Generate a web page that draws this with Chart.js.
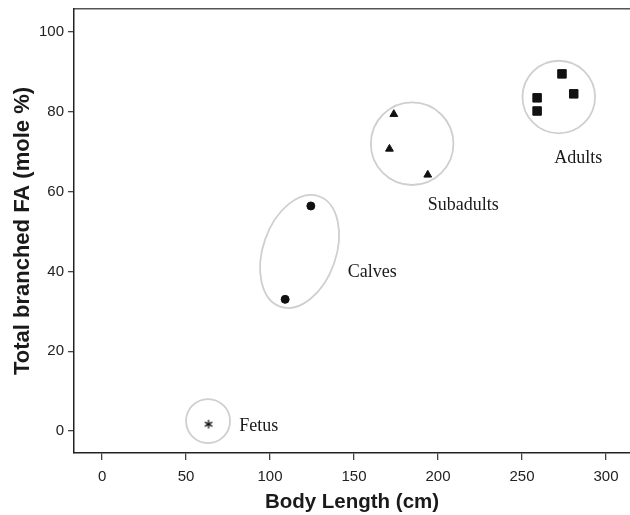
<!DOCTYPE html>
<html>
<head>
<meta charset="utf-8">
<script src="https://cdn.jsdelivr.net/npm/chart.js@4.4.0/dist/chart.umd.min.js"></script>
<style>
  html, body { margin: 0; padding: 0; background: #fff; overflow: hidden; }
  /* 7px wider than the window: the point overflow margin on the right falls off-screen,
     so the plot box runs to the edge */
  #wrap { width: 637px; height: 515px; }
</style>
</head>
<body>
<div id="wrap"><canvas id="myChart"></canvas></div>
<script>
// body length (cm) and total branched FA (mole %) per age group
const groups = ['Fetus', 'Calves', 'Subadults', 'Adults'];
const fetusX = [63.4];
const fetusY = [1.7];
const calvesX = [124.3, 109.0];
const calvesY = [56.4, 33.0];
const subadultX = [173.7, 171.1, 193.9];
const subadultY = [79.4, 70.7, 64.2];
const adultX = [273.8, 280.8, 259.0, 259.0];
const adultY = [89.5, 84.5, 83.5, 80.2];

const xTicks = [0, 50, 100, 150, 200, 250, 300];
const yTicks = [0, 20, 40, 60, 80, 100];

function pts(xs, ys) {
    return xs.map((x, i) => ({ x: x, y: ys[i] }));
}

// grey rings round each group + group names (centre in data units, radii in px)
const rings = [
    { cx: 63.1, cy: 2.5, rx: 22, ry: 22, rot: 0 },
    { cx: 117.6, cy: 45.0, rx: 36.5, ry: 58.5, rot: 19.3 },
    { cx: 184.6, cy: 72.0, rx: 41.3, ry: 41.3, rot: 0 },
    { cx: 271.9, cy: 83.7, rx: 36.3, ry: 36.3, rot: 0 }
];
const labelPos = [
    { x: 81.7, y: 1.3 },
    { x: 146.3, y: 39.8 },
    { x: 193.9, y: 56.6 },
    { x: 269.2, y: 68.3 }
];

// six-armed asterisk for the fetus point
const asterisk = document.createElement('canvas');
asterisk.width = 12;
asterisk.height = 12;
(function () {
    const c = asterisk.getContext('2d');
    c.strokeStyle = '#111';
    c.lineWidth = 1.3;
    c.lineCap = 'round';
    for (let k = 0; k < 3; k++) {
        const a = k * Math.PI / 3;
        c.beginPath();
        c.moveTo(6 + 3.8 * Math.sin(a), 6 - 3.8 * Math.cos(a));
        c.lineTo(6 - 3.8 * Math.sin(a), 6 + 3.8 * Math.cos(a));
        c.stroke();
    }
})();

const groupMarks = {
    id: 'groupMarks',
    beforeDatasetsDraw(chart) {
        const { ctx, scales: { x, y } } = chart;
        ctx.save();
        ctx.strokeStyle = '#cfcfcf';
        ctx.lineWidth = 1.8;
        rings.forEach(r => {
            ctx.beginPath();
            ctx.ellipse(x.getPixelForValue(r.cx), y.getPixelForValue(r.cy),
                r.rx, r.ry, r.rot * Math.PI / 180, 0, Math.PI * 2);
            ctx.stroke();
        });
        ctx.restore();
    },
    afterDatasetsDraw(chart) {
        const { ctx, scales: { x, y } } = chart;
        ctx.save();
        ctx.fillStyle = '#1a1a1a';
        ctx.font = '18px "Liberation Serif", "Times New Roman", serif';
        ctx.textAlign = 'left';
        ctx.textBaseline = 'middle';
        groups.forEach((g, i) => {
            ctx.fillText(g, x.getPixelForValue(labelPos[i].x), y.getPixelForValue(labelPos[i].y));
        });
        ctx.restore();
    }
};

const tickFont = { family: '"Liberation Sans", Arial, sans-serif', size: 15 };
const fontFam = '"Liberation Sans", Arial, sans-serif';

function noPad(scale) {
    scale.paddingLeft = 0;
    scale.paddingRight = 0;
    scale.paddingTop = 0;
    scale.paddingBottom = 0;
}

const ctx = document.getElementById('myChart').getContext('2d');
const myChart = new Chart(ctx, {
    type: 'scatter',
    data: {
        datasets: [{
            label: groups[0],
            data: pts(fetusX, fetusY),
            pointStyle: asterisk,
            pointRadius: 6
        }, {
            label: groups[1],
            data: pts(calvesX, calvesY),
            pointStyle: 'circle',
            pointRadius: 4,
            borderColor: '#111',
            borderWidth: 1,
            backgroundColor: '#111'
        }, {
            label: groups[2],
            data: pts(subadultX, subadultY),
            pointStyle: 'triangle',
            pointRadius: 4.5,
            borderColor: '#111',
            borderWidth: 1,
            backgroundColor: '#111'
        }, {
            label: groups[3],
            data: pts(adultX, adultY),
            pointStyle: 'rect',
            pointRadius: 6,
            borderColor: '#111',
            borderWidth: 1,
            backgroundColor: '#111'
        }]
    },
    options: {
        responsive: true,
        maintainAspectRatio: false,
        animation: false,
        layout: { padding: { top: 9, left: 0, right: 0, bottom: 0 } },
        scales: {
            x: {
                type: 'linear',
                position: 'bottom',
                min: -16.7,
                max: 314.3,
                afterFit(scale) { scale.height = 62; noPad(scale); },
                afterBuildTicks(scale) { scale.ticks = xTicks.map(v => ({ value: v })); },
                ticks: { font: tickFont, color: '#222', padding: 8, maxRotation: 0 },
                grid: { drawOnChartArea: false, drawTicks: true, tickLength: 7, color: '#444', lineWidth: 1.3 },
                border: { display: true, color: '#222', width: 1.5 },
                title: { display: true, text: 'Body Length (cm)', font: { family: fontFam, size: 20.5, weight: 'bold' }, color: '#1a1a1a', padding: { top: 0, bottom: 0 } }
            },
            xTop: {
                type: 'linear',
                position: 'top',
                min: -16.7,
                max: 314.3,
                afterFit(scale) { scale.height = 0; noPad(scale); },
                ticks: { display: false },
                grid: { display: false },
                border: { display: true, color: '#555', width: 1.5 }
            },
            y: {
                type: 'linear',
                min: -5.51,
                max: 105.76,
                afterFit(scale) { scale.width = 74; noPad(scale); },
                afterBuildTicks(scale) { scale.ticks = yTicks.map(v => ({ value: v })); },
                ticks: { font: tickFont, color: '#222', padding: 4 },
                grid: { drawOnChartArea: false, drawTicks: true, tickLength: 6, color: '#444', lineWidth: 1.3 },
                border: { display: true, color: '#222', width: 1.5 },
                title: { display: true, text: 'Total branched FA (mole %)', font: { family: fontFam, size: 22, weight: 'bold' }, color: '#1a1a1a', padding: { top: 10, bottom: 0 } }
            }
        },
        plugins: {
            legend: { display: false },
            tooltip: { enabled: false }
        }
    },
    plugins: [groupMarks]
});
</script>
</body>
</html>
